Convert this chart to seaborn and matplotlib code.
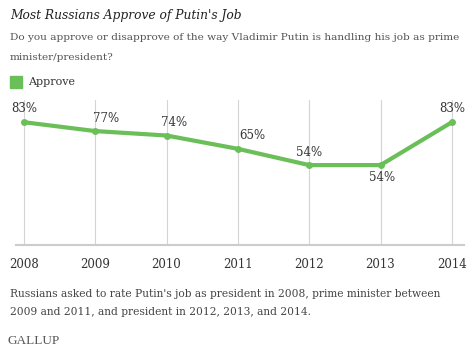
import matplotlib
matplotlib.use("Agg")
import matplotlib.pyplot as plt
import seaborn as sns
import pandas as pd

years = [2008, 2009, 2010, 2011, 2012, 2013, 2014]
approve = [83, 77, 74, 65, 54, 54, 83]
labels = ["83%", "77%", "74%", "65%", "54%", "54%", "83%"]
# label offsets in pixels (dx, dy)
offsets = [(0, 14), (11, 13), (8, 13), (14, 13), (0, 13), (2, -12), (0, 14)]

sns.set_theme(style="white")
plt.rcParams['font.family'] = ['DejaVu Serif']

GREEN = "#6abf59"
TXT = "#333333"

fig = plt.figure(figsize=(4.74, 3.54), dpi=100)
W, H = 474, 354
ax = fig.add_axes([16 / W, (H - 245) / H, (464 - 16) / W, (245 - 100) / H])

df = pd.DataFrame({"year": years, "approve": approve})
sns.lineplot(data=df, x="year", y="approve", ax=ax, color=GREEN, linewidth=3,
             marker="o", markersize=5, markeredgewidth=0, zorder=3)

ax.set_xlim(2007.89, 2014.17)
ax.set_ylim(0, 98)
ax.set_xticks(years)
ax.set_xticklabels([str(y) for y in years], fontsize=8.5, color=TXT)
ax.set_yticks([])
ax.set_xlabel("")
ax.set_ylabel("")
ax.tick_params(axis="x", length=0, pad=9)
for y in years:
    ax.axvline(y, color="#d4d4d4", linewidth=0.8, zorder=1)
for s in ["top", "right", "left"]:
    ax.spines[s].set_visible(False)
ax.spines["bottom"].set_color("#cccccc")
ax.spines["bottom"].set_linewidth(1.5)

for x, v, lab, (dx, dy) in zip(years, approve, labels, offsets):
    ax.annotate(lab, (x, v), xytext=(dx, dy), textcoords="offset pixels",
                ha="center", va="center", fontsize=8.5, color=TXT, zorder=4)

fig.text(10 / W, 1 - 15 / H, "Most Russians Approve of Putin's Job", fontsize=8.8,
         style="italic", color="#222222", va="center", ha="left")
fig.text(10 / W, 1 - 37 / H,
         "Do you approve or disapprove of the way Vladimir Putin is handling his job as prime",
         fontsize=7.55, color="#555555", va="center", ha="left")
fig.text(10 / W, 1 - 57 / H, "minister/president?", fontsize=7.55, color="#555555",
         va="center", ha="left")
fig.patches.append(matplotlib.patches.Rectangle((10 / W, 1 - 88 / H), 12 / W, 12 / H,
                                                 transform=fig.transFigure, color=GREEN))
fig.text(28 / W, 1 - 82 / H, "Approve", fontsize=8, color=TXT, va="center", ha="left")

fig.text(10 / W, 1 - 294 / H,
         "Russians asked to rate Putin's job as president in 2008, prime minister between",
         fontsize=7.65, color="#444444", va="center", ha="left")
fig.text(10 / W, 1 - 312 / H,
         "2009 and 2011, and president in 2012, 2013, and 2014.",
         fontsize=7.65, color="#444444", va="center", ha="left")
fig.text(7 / W, 1 - 341 / H, "GALLUP", fontsize=9.5, color="#555555", va="center",
         ha="left", family="Liberation Serif")

fig.savefig("out.png", dpi=100)
